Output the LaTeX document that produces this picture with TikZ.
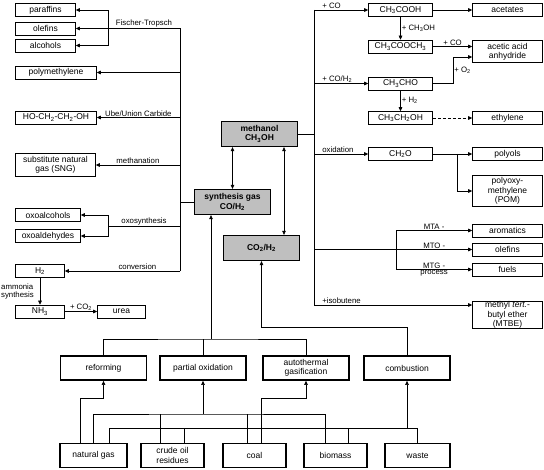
\documentclass[tikz,border=0pt]{standalone}
\usepackage{fontspec}
\setmainfont{Liberation Sans}
\usetikzlibrary{arrows.meta}

\newcommand{\ssub}[1]{\textsubscript{#1}}
\newcommand{\boxfont}{\fontsize{8.5}{9.3}\selectfont}
\newcommand{\lblfont}{\fontsize{7.8}{8.8}\selectfont}

\tikzset{
  box/.style={draw, line width=0.6pt, align=center, inner sep=0.5pt, minimum height=13pt, font=\boxfont},
  procbox/.style={draw, line width=1.8pt, align=center, inner sep=1pt, minimum width=86pt, minimum height=24pt, font=\boxfont},
  feedbox/.style={procbox, minimum width=63pt},
  gasbox/.style={draw, line width=1.3pt, fill=black!25, align=center, minimum width=76pt, minimum height=25pt, font=\boxfont\bfseries},
  lbl/.style={inner sep=1pt, font=\lblfont},
  arr/.style={-{Triangle[length=4pt,width=3.6pt]}},
  darr/.style={{Triangle[length=4pt,width=3.6pt]}-{Triangle[length=4pt,width=3.6pt]}},
}

\begin{document}
\begin{tikzpicture}[x=1pt, y=-1pt, line width=0.6pt]
\useasboundingbox (0,0) rectangle (544,470);

% Products on the left
\node[box, minimum width=60] (paraffins) at (45.5,10) {paraffins};
\node[box, minimum width=60] (olefinsL) at (45.5,28.5) {olefins};
\node[box, minimum width=60] (alcohols) at (45.5,45.5) {alcohols};
\node[box, minimum width=81] (polymethylene) at (56,72.5) {polymethylene};
\node[box, minimum width=81] (glycol) at (56,117.5) {HO-CH\ssub{2}-CH\ssub{2}-OH};
\node[box, minimum width=80, minimum height=23] (sng) at (55.5,165) {substitute natural\\gas (SNG)};
\node[box, minimum width=65] (oxoalcohols) at (48,215) {oxoalcohols};
\node[box, minimum width=65] (oxoaldehydes) at (48,236) {oxoaldehydes};
\node[box, minimum width=49] (h2) at (40,271) {H\ssub{2}};
\node[box, minimum width=49] (nh3) at (40,311.5) {NH\ssub{3}};
\node[box, minimum width=48] (urea) at (121.5,311.5) {urea};

% Gas boxes in the middle
\node[gasbox] (methanol) at (259.5,134) {methanol\\CH\ssub{3}OH};
\node[gasbox] (syngas) at (232.5,202) {synthesis gas\\CO/H\ssub{2}};
\node[gasbox] (co2h2) at (261.5,248) {CO\ssub{2}/H\ssub{2}};

% Methanol chemistry on the right
\node[box, minimum width=64] (ch3cooh) at (400.5,10) {CH\ssub{3}COOH};
\node[box, minimum width=64] (ch3cooch3) at (400.5,46.5) {CH\ssub{3}COOCH\ssub{3}};
\node[box, minimum width=64] (ch3cho) at (400.5,83.5) {CH\ssub{3}CHO};
\node[box, minimum width=64] (ch3ch2oh) at (400.5,118) {CH\ssub{3}CH\ssub{2}OH};
\node[box, minimum width=64] (ch2o) at (400.5,154) {CH\ssub{2}O};
\node[box, minimum width=70] (acetates) at (507.5,10) {acetates};
\node[box, minimum width=70, minimum height=22] (anhydride) at (507.5,51.5) {acetic acid\\anhydride};
\node[box, minimum width=70] (ethylene) at (507.5,118) {ethylene};
\node[box, minimum width=70] (polyols) at (507.5,154) {polyols};
\node[box, minimum width=70, minimum height=31] (pom) at (507.5,191) {polyoxy-\\methylene\\(POM)};
\node[box, minimum width=70] (aromatics) at (507.5,230.5) {aromatics};
\node[box, minimum width=70] (olefinsR) at (507.5,249.5) {olefins};
\node[box, minimum width=70] (fuels) at (507.5,269.5) {fuels};
\node[box, minimum width=70, minimum height=26] (mtbe) at (507.5,315) {methyl \textit{tert.}-\\butyl ether\\(MTBE)};

% Processes
\node[procbox] (reforming) at (103.5,368) {reforming};
\node[procbox] (partox) at (203,368) {partial oxidation};
\node[procbox] (autotherm) at (306,368) {autothermal\\gasification};
\node[procbox] (combustion) at (407,368) {combustion};

% Feedstocks
\node[feedbox, minimum width=67] (natgas) at (93.5,455.5) {natural gas};
\node[feedbox] (crude) at (172.5,455.5) {crude oil\\residues};
\node[feedbox] (coal) at (254.5,455.5) {coal};
\node[feedbox] (biomass) at (335.5,455.5) {biomass};
\node[feedbox, minimum width=65] (waste) at (417.5,455.5) {waste};

% Left trunk from synthesis gas
\coordinate (lt1) at (180,28.5);
\coordinate (lt2) at (180,271);
\coordinate (ftb) at (108,28.5);
\coordinate (oxb) at (108,226);
\draw (lt1) -- (lt2);
\draw (lt1) -- (ftb) node[lbl, midway, above] {Fischer-Tropsch};
\draw[arr] (ftb) -- (olefinsL);
\draw[arr] (ftb) |- (paraffins);
\draw[arr] (ftb) |- (alcohols);
\draw[arr] (lt1 |- polymethylene) -- (polymethylene);
\draw[arr] (lt1 |- glycol) -- (glycol) node[lbl, midway, above] {Ube/Union Carbide};
\draw[arr] (lt1 |- sng) -- (sng) node[lbl, midway, above] {methanation};
\draw (lt1 |- syngas) -- (syngas);
\draw (lt1 |- oxb) -- (oxb) node[lbl, midway, above] {oxosynthesis};
\draw[arr] (oxb) |- (oxoalcohols);
\draw[arr] (oxb) |- (oxoaldehydes);
\draw[arr] (lt2) -- (h2) node[lbl, pos=0.37, above] {conversion};
\draw[arr] (h2) -- (nh3);
\node[lbl, align=left, anchor=east] (ammonia) at (35,291.5) {ammonia\\synthesis};
\draw[arr] (nh3) -- (urea) node[lbl, midway, above] {+ CO\ssub{2}};

% Between the gas boxes
\coordinate (mco) at ([xshift=24.5]methanol.south);
\draw[darr] (syngas.north |- methanol.south) -- (syngas.north);
\draw[darr] (mco) -- (mco |- co2h2.north);

% Processes to gases
\coordinate (sgbus) at (211,339);
\draw[arr] (sgbus) -- (sgbus |- syngas.south);
\draw (reforming) |- (sgbus) -| (autotherm);
\draw (partox) -- (partox |- sgbus);
\coordinate (cbend) at (261.5,327);
\draw[arr] (combustion) |- (cbend) -- (co2h2);

% Feedstocks to processes
\coordinate (refbus) at (103.5,398);
\coordinate (nga) at ([xshift=-13.5]natgas.north);
\draw[arr] (nga) |- (refbus) -- (reforming);

\coordinate (pobus) at (203,414);
\coordinate (crudea) at ([xshift=-12.5]crude.north);
\coordinate (coala) at ([xshift=-7.5]coal.north);
\coordinate (biomassa) at ([xshift=-10.5]biomass.north);
\draw (natgas) |- (pobus) -| (biomassa);
\draw[arr] (pobus) -- (partox);
\draw (crudea) -- (crudea |- pobus);
\draw (coala) -- (coala |- pobus);

\coordinate (atbus) at (306,398);
\coordinate (coalb) at ([xshift=6.5]coal.north);
\draw[arr] (coalb) |- (atbus) -- (autotherm);

\coordinate (cbbus) at (407,428.5);
\coordinate (natgasc) at ([xshift=15.5]natgas.north);
\coordinate (crudec) at ([xshift=11.5]crude.north);
\coordinate (biomassc) at ([xshift=12.5]biomass.north);
\draw (natgasc) |- (cbbus) -| (waste);
\draw[arr] (cbbus) -- (combustion);
\draw (crudec) -- (crudec |- cbbus);
\draw (biomassc) -- (biomassc |- cbbus);

% Right trunk from methanol
\coordinate (rt1) at (314,10);
\coordinate (rt2) at (314,305);
\draw (rt1) -- (rt2);
\draw (methanol) -- (methanol -| rt1);
\draw[arr] (rt1) -- (ch3cooh) node[lbl, pos=0, above right, xshift=7] {+ CO};
\draw[arr] (rt1 |- ch3cho) -- (ch3cho) node[lbl, pos=0, above right, xshift=7] {+ CO/H\ssub{2}};
\draw[arr] (rt1 |- ch2o) -- (ch2o) node[lbl, pos=0, above right, xshift=7] {oxidation};
\coordinate (mtb) at (396,249.5);
\draw[arr] (rt1 |- mtb) -- (olefinsR) node[lbl, pos=0.76, above] {MTO -};
\draw[arr] (mtb) |- (aromatics) node[lbl, pos=0.75, above] {MTA -};
\draw[arr] (mtb) |- (fuels) node[lbl, pos=0.75, above] {MTG -} node[lbl, pos=0.75, below] {process};
\draw[arr] (rt2) -- (rt2 -| mtbe.west) node[lbl, pos=0, above right, xshift=7] {+isobutene};

% Acetic acid and aldehyde routes
\draw[arr] (ch3cooh) -- (acetates);
\draw[arr] (ch3cooh) -- (ch3cooch3) node[lbl, midway, right] {+ CH\ssub{3}OH};
\draw[arr] (ch3cooch3) -- (ch3cooch3 -| anhydride.west) node[lbl, midway, above] {+ CO};
\coordinate (o2b) at (453,57);
\draw[arr] (ch3cho) -| (o2b) node[lbl, pos=0.75, right] {+ O\ssub{2}} -- (o2b -| anhydride.west);
\draw[arr] (ch3cho) -- (ch3ch2oh) node[lbl, midway, right] {+ H\ssub{2}};
\draw[arr, dash pattern=on 3pt off 2pt] (ch3ch2oh) -- (ethylene);
\draw[arr] (ch2o) -- (polyols);
\coordinate (pomb) at (457,154);
\draw[arr] (pomb) |- (pom);

\end{tikzpicture}
\end{document}
